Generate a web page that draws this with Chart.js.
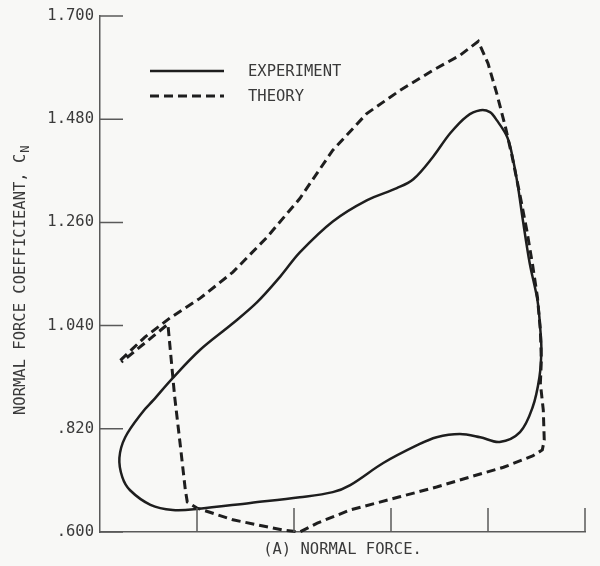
<!DOCTYPE html>
<html>
<head>
<meta charset="utf-8">
<script src="https://cdn.jsdelivr.net/npm/chart.js@4.4.0/dist/chart.umd.min.js"></script>
<style>
  body { margin: 0; background: #f8f8f6; }
  #wrap { width: 600px; height: 566px; }
</style>
</head>
<body>
<div id="wrap"><canvas id="myChart"></canvas></div>
<script>
// experiment loop (solid)
const expX = [1.55, 1.00, 0.75, 0.52, 0.31, 0.23, 0.20, 0.26, 0.44, 0.55, 0.74, 1.03, 1.37, 1.62, 1.86, 2.06,
  2.40, 2.75, 3.06, 3.23, 3.43, 3.61, 3.78, 3.92, 4.02, 4.09, 4.20, 4.26, 4.31, 4.36, 4.43, 4.51, 4.54, 4.55, 4.53, 4.46,
  4.33, 4.12, 3.92, 3.71, 3.47, 3.27, 2.92, 2.58, 2.40, 2.06, 1.55];
const expY = [0.662, 0.649, 0.647, 0.658, 0.689, 0.717, 0.758, 0.802, 0.856, 0.881, 0.926, 0.988, 1.045, 1.090, 1.145, 1.196,
  1.262, 1.307, 1.333, 1.352, 1.399, 1.450, 1.486, 1.499, 1.495, 1.478, 1.441, 1.392, 1.335, 1.264, 1.173, 1.094, 1.030, 0.988, 0.930, 0.866,
  0.813, 0.792, 0.802, 0.809, 0.802, 0.785, 0.747, 0.700, 0.685, 0.674, 0.662];

// theory (dashed)
const theoryX = [0.21, 0.46, 0.72, 1.03, 1.37, 1.72, 2.06, 2.40, 2.75, 3.09, 3.43, 3.71, 3.90, 4.00, 4.09, 4.18,
  4.25, 4.33, 4.40, 4.46, 4.51, 4.54, 4.55, 4.54, 4.57, 4.58, 4.56, 4.46, 4.16, 3.81, 3.47, 3.09, 2.58, 2.24,
  2.06, 1.89, 1.72, 1.37, 1.00, 0.90, 0.88, 0.83, 0.77, 0.70, 0.22];
const theoryY = [0.966, 1.015, 1.056, 1.098, 1.154, 1.228, 1.311, 1.414, 1.492, 1.541, 1.584, 1.616, 1.646, 1.599, 1.535, 1.463,
  1.399, 1.318, 1.243, 1.169, 1.100, 1.030, 0.966, 0.917, 0.860, 0.796, 0.775, 0.762, 0.738, 0.717, 0.696, 0.675, 0.647, 0.619,
  0.600, 0.604, 0.611, 0.626, 0.651, 0.664, 0.689, 0.781, 0.888, 1.043, 0.962];

const seriesNames = ['EXPERIMENT', 'THEORY'];
const yTicks = [0.6, 0.82, 1.04, 1.26, 1.48, 1.7];
const yTickLabels = ['.600', '.820', '1.040', '1.260', '1.480', '1.700'];
const xTicks = [1, 2, 3, 4, 5];
const xTitle = '(A) NORMAL FORCE.';
const yTitle = 'NORMAL FORCE COEFFICIEANT, C';
const yTitleSub = 'N';

const fontFamily = "'DejaVu Sans Mono', 'Liberation Mono', monospace";
const textColor = '#3a3a3a';
const axisColor = '#5a5a5a';
const lineColor = '#1e1e1e';

const ctx = document.getElementById('myChart');

const extras = {
  id: 'extras',
  afterDraw(chart) {
    const c = chart.ctx;
    const a = chart.chartArea;
    const x = chart.scales.x, y = chart.scales.y;
    c.save();
    // inward tick marks
    c.strokeStyle = axisColor;
    c.lineWidth = 1.5;
    c.beginPath();
    xTicks.forEach(v => {
      const px = x.getPixelForValue(v);
      c.moveTo(px, a.bottom);
      c.lineTo(px, a.bottom - 24);
    });
    yTicks.forEach(v => {
      const py = y.getPixelForValue(v);
      c.moveTo(a.left, py);
      c.lineTo(a.left + 23, py);
    });
    c.stroke();

    // legend inside the plot
    c.font = '15.5px ' + fontFamily;
    c.textBaseline = 'middle';
    c.fillStyle = textColor;
    chart.data.datasets.forEach((ds, i) => {
      const ly = a.top + 55 + i * 25;
      c.strokeStyle = ds.borderColor;
      c.lineWidth = ds.borderWidth;
      c.setLineDash(ds.borderDash || []);
      c.beginPath();
      c.moveTo(a.left + 50, ly);
      c.lineTo(a.left + 124, ly);
      c.stroke();
      c.setLineDash([]);
      c.fillText(ds.label, a.left + 148, ly + 1);
    });

    // rotated y title with subscript
    c.translate(21, a.bottom - 117);
    c.rotate(-Math.PI / 2);
    c.textAlign = 'left';
    c.fillText(yTitle, 0, 0);
    const w = c.measureText(yTitle).width;
    c.font = '12px ' + fontFamily;
    c.fillText(yTitleSub, w + 1, 5);
    c.restore();
  }
};

new Chart(ctx, {
  type: 'scatter',
  data: {
    datasets: [{
      label: seriesNames[0],
      data: expX.map((v, i) => ({x: v, y: expY[i]})),
      showLine: true,
      borderColor: lineColor,
      borderWidth: 2.5,
      tension: 0.35,
      pointRadius: 0,
      clip: false
    },
    {
      label: seriesNames[1],
      data: theoryX.map((v, i) => ({x: v, y: theoryY[i]})),
      showLine: true,
      borderColor: lineColor,
      borderWidth: 3,
      borderDash: [9, 5],
      tension: 0,
      pointRadius: 0,
      clip: false
    }]
  },
  options: {
    responsive: true,
    maintainAspectRatio: false,
    animation: false,
    layout: { padding: { top: 16, right: 15, bottom: 0, left: 0 } },
    plugins: {
      legend: { display: false },
      tooltip: { enabled: false }
    },
    scales: {
      x: {
        type: 'linear',
        min: 0,
        max: 5,
        grid: { display: false, drawTicks: false },
        border: { display: true, color: axisColor, width: 1.5 },
        ticks: { display: false },
        title: {
          display: true,
          text: xTitle,
          color: textColor,
          font: { family: fontFamily, size: 15.5 },
          padding: { top: 0, bottom: 7 }
        },
        afterFit(scale) { scale.height = 34; }
      },
      y: {
        type: 'linear',
        min: 0.6,
        max: 1.7,
        grid: { display: false, drawTicks: false },
        border: { display: true, color: axisColor, width: 1.5 },
        afterBuildTicks(scale) { scale.ticks = yTicks.map(v => ({value: v})); },
        ticks: {
          padding: 6,
          color: textColor,
          font: { family: fontFamily, size: 15.5 },
          callback: (v, i) => yTickLabels[i]
        },
        afterFit(scale) { scale.width = 100; }
      }
    }
  },
  plugins: [extras]
});
</script>
</body>
</html>
